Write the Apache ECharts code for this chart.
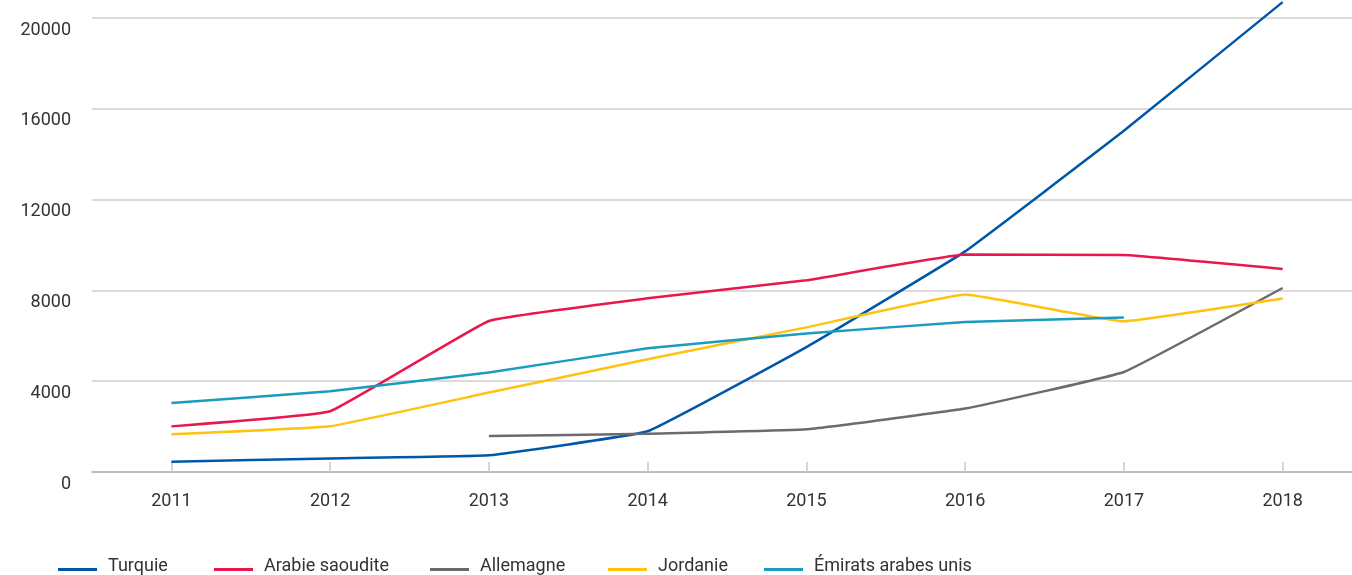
<!DOCTYPE html>
<html>
<head>
<meta charset="utf-8">
<script src="https://cdn.jsdelivr.net/npm/echarts@6/dist/echarts.min.js"></script>
<style>
html,body{margin:0;padding:0;background:#fff;}
#c{width:1352px;height:575px;}
</style>
</head>
<body>
<div id="c"></div>
<script>
var years = ['2011','2012','2013','2014','2015','2016','2017','2018'];
var yTicks = [0, 4000, 8000, 12000, 16000, 20000];
var turquie = [450, 600, 736, 1793, 5500, 9720, 15030, 20700];
var arabieSaoudite = [2010, 2674, 6653, 7650, 8446, 9578, 9561, 8944];
var allemagne = ['-', '-', 1586, 1683, 1881, 2793, 4406, 8107];
var jordanie = [1660, 2013, 3498, 4965, 6371, 7816, 6640, 7640];
var emirats = [3040, 3556, 4380, 5450, 6098, 6609, 6803, '-'];

var names = ['Turquie', 'Arabie saoudite', 'Allemagne', 'Jordanie', 'Émirats arabes unis'];
var colors = ['#0057a8', '#e8174e', '#6b6b6b', '#ffc20e', '#1a9bc0'];
var datasets = [turquie, arabieSaoudite, allemagne, jordanie, emirats];
var legendLeft = [58, 214, 430, 608, 764];

var chart = echarts.init(document.getElementById('c'), null, {renderer: 'canvas'});
var series = datasets.map(function (d, i) {
  return {
    name: names[i],
    type: 'line',
    data: d,
    showSymbol: false,
    symbol: 'none',
    smooth: 0.08,
    clip: false,
    lineStyle: {width: 2.5, color: colors[i]},
    itemStyle: {color: colors[i]},
    emphasis: {disabled: true}
  };
});
var legends = names.map(function (n, i) {
  return {
    data: [n],
    left: legendLeft[i],
    top: 557,
    padding: 0,
    icon: 'rect',
    itemWidth: 39,
    itemHeight: 3,
    formatter: '{t|{name}}',
    textStyle: {
      fontFamily: 'Roboto', fontSize: 18, color: '#333', padding: [0, 0, 0, 6],
      rich: {t: {fontFamily: 'Roboto', fontSize: 18, color: '#333', padding: [0, 0, 7, 0]}}
    }
  };
});
chart.setOption({
  animation: false,
  color: colors,
  grid: {left: 92, top: 18, height: 454, width: 1270, containLabel: false, outerBoundsMode: 'none'},
  legend: legends,
  xAxis: {
    type: 'category',
    data: years,
    boundaryGap: true,
    axisLine: {lineStyle: {color: '#b5b5b5', width: 1.5}},
    axisTick: {show: true, inside: true, length: 10, alignWithLabel: true, lineStyle: {color: '#c8c8c8', width: 1.5}},
    axisLabel: {fontFamily: 'Roboto', fontSize: 18, color: '#333', margin: 20}
  },
  yAxis: {
    type: 'value',
    min: yTicks[0],
    max: yTicks[yTicks.length - 1],
    interval: 4000,
    axisLine: {show: false},
    axisTick: {show: false},
    splitLine: {lineStyle: {color: '#cfcfcf', width: 1.5}},
    axisLabel: {fontFamily: 'Roboto', fontSize: 18, color: '#333', margin: 21, verticalAlign: 'top',
      padding: [3, 0, 0, 0],
      formatter: function (v) { return String(v); }}
  },
  series: series
});
</script>
</body>
</html>
